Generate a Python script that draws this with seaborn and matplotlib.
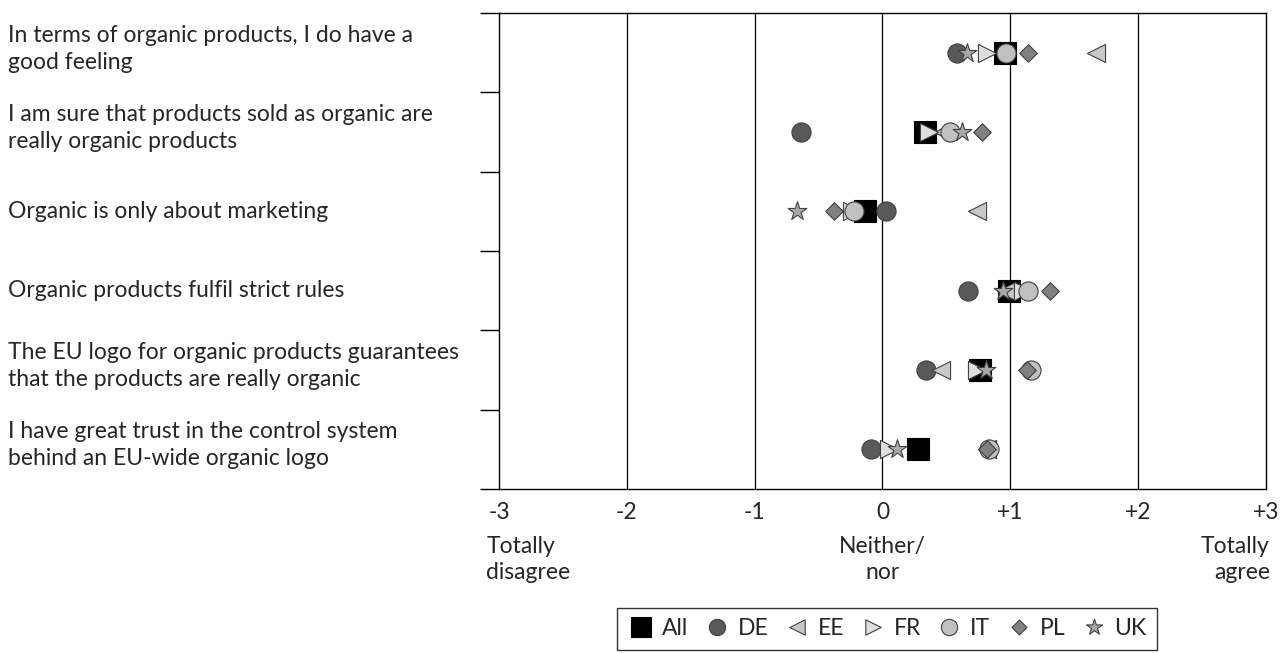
import pandas as pd
import seaborn as sns
import matplotlib.pyplot as plt
from matplotlib.transforms import blended_transform_factory

statements = [
    "In terms of organic products, I do have a\ngood feeling",
    "I am sure that products sold as organic are\nreally organic products",
    "Organic is only about marketing",
    "Organic products fulfil strict rules",
    "The EU logo for organic products guarantees\nthat the products are really organic",
    "I have great trust in the control system\nbehind an EU-wide organic logo",
]
groups = ["All", "DE", "EE", "FR", "IT", "PL", "UK"]

all_vals = [0.96, 0.33, -0.14, 0.99, 0.76, 0.28]
de_vals = [0.58, -0.64, 0.03, 0.67, 0.34, -0.09]
ee_vals = [1.67, 0.47, 0.74, 0.97, 0.46, 0.82]
fr_vals = [0.82, 0.36, -0.24, 1.10, 0.74, 0.05]
it_vals = [0.97, 0.53, -0.22, 1.14, 1.16, 0.83]
pl_vals = [1.14, 0.78, -0.38, 1.31, 1.13, 0.82]
uk_vals = [0.66, 0.62, -0.67, 0.94, 0.81, 0.11]

xticks = [-3, -2, -1, 0, 1, 2, 3]
xticklabels = ["-3", "-2", "-1", "0", "+1", "+2", "+3"]

df = pd.DataFrame({
    "statement": statements * len(groups),
    "group": sum([[g] * len(statements) for g in groups], []),
    "score": all_vals + de_vals + ee_vals + fr_vals + it_vals + pl_vals + uk_vals,
})
df["row"] = df["statement"].map({s: i for i, s in enumerate(statements)})

# marker, face colour, size
styles = {
    "All": ("s", "#000000", 260),
    "DE": ("o", "#595959", 190),
    "EE": ("<", "#c8c8c8", 170),
    "FR": (">", "#dedede", 170),
    "IT": ("o", "#c0c0c0", 190),
    "PL": ("D", "#808080", 80),
    "UK": ("*", "#a8a8a8", 200),
}

sns.set_style("white")
plt.rcParams["font.family"] = ["Lato", "DejaVu Sans"]
fs = 16.5

fig = plt.figure(figsize=(12.81, 6.53), dpi=100)
ax = fig.add_axes([0.3895, 0.2511, 0.9883 - 0.3895, 0.980 - 0.2511])

for g in groups:
    m, c, s = styles[g]
    sub = df[df["group"] == g]
    sns.scatterplot(data=sub, x="score", y="row", marker=m, color=c, s=s,
                    edgecolor="#404040" if g != "All" else "#000000",
                    linewidth=0.8, ax=ax, label=g, zorder=3)

ax.set_xlim(-3, 3)
ax.set_ylim(len(statements) - 0.5, -0.5)
for x in xticks[1:-1]:
    ax.axvline(x, color="black", lw=0.9, zorder=1)
for sp in ax.spines.values():
    sp.set_color("black")
    sp.set_linewidth(1.0)

ax.set_yticks([i - 0.5 for i in range(len(statements) + 1)])
ax.set_yticklabels([])
ax.tick_params(axis="y", left=True, length=14, width=1.0, color="black")
ax.set_xticks(xticks)
ax.set_xticklabels(xticklabels, fontsize=fs)
ax.tick_params(axis="x", bottom=False, pad=6)
ax.set_xlabel("")
ax.set_ylabel("")

# statement labels on the left, two-line ones sit a bit above the row centre
tr = blended_transform_factory(fig.transFigure, ax.transData)
for i, s in enumerate(statements):
    off = -0.05 if "\n" in s else 0
    ax.text(0.006, i + off, s, transform=tr, ha="left", va="center",
            fontsize=fs, linespacing=1.35)

lab_y = -0.098
ax.text(-3.1, lab_y, "Totally\ndisagree", transform=ax.get_xaxis_transform(),
        ha="left", va="top", fontsize=fs, linespacing=1.3)
ax.text(0, lab_y, "Neither/\nnor", transform=ax.get_xaxis_transform(),
        ha="center", va="top", fontsize=fs, linespacing=1.3)
ax.text(3.03, lab_y, "Totally\nagree", transform=ax.get_xaxis_transform(),
        ha="right", va="top", fontsize=fs, linespacing=1.3)

leg = ax.legend(loc="center", bbox_to_anchor=(0.506, -0.294), ncol=7,
                fontsize=fs, frameon=True, fancybox=False, edgecolor="black",
                handletextpad=0.3, columnspacing=0.65, handlelength=1.2,
                borderpad=0.45, markerscale=0.85, scatteryoffsets=[0.5])
leg.get_frame().set_linewidth(1.0)

fig.savefig("out.png", dpi=100)
